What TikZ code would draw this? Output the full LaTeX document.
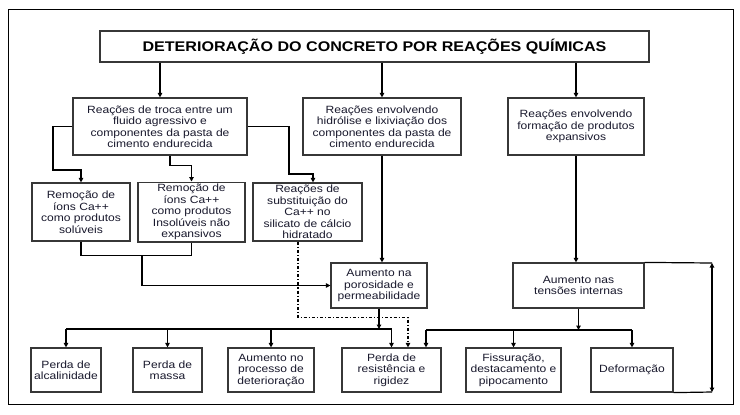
\documentclass[tikz,border=0pt]{standalone}
\usepackage{fontspec}
\setmainfont{Liberation Sans}[FakeStretch=1.15]
\usepackage{xcolor}
\usetikzlibrary{arrows.meta}
\definecolor{ink}{RGB}{25,25,45}
\definecolor{edge}{RGB}{55,55,55}

\begin{document}
\begin{tikzpicture}[x=1bp, y=-1bp,
  box/.style={draw=edge, line width=1.2bp, fill=white, align=center, text=ink, inner sep=2bp,
    font=\fontsize{10.5bp}{11.5bp}\selectfont},
  arr/.style={line width=1.2bp, -{Triangle[length=4.5bp,width=4.5bp]}},
  link/.style={line width=1.2bp},
  dd/.style={line width=1.2bp, dash dot, -{Triangle[length=4.5bp,width=4.5bp]}}]
  \useasboundingbox (0,0) rectangle (740,414);
  \draw[line width=0.8bp] (8,9) rectangle (733,404);

  \node[box, minimum width=549bp, minimum height=31bp, text=black,
    font=\fontsize{14bp}{16bp}\selectfont\bfseries] (T) at (374.5,46.5) {DETERIORAÇÃO DO CONCRETO POR REAÇÕES QUÍMICAS};

  \node[box, minimum width=174bp, minimum height=57bp] (A) at (160,126.5) {Reações de troca entre um\\fluido agressivo e\\componentes da pasta de\\cimento endurecida};
  \node[box, minimum width=158bp, minimum height=57bp] (B) at (382,126.5) {Reações envolvendo\\hidrólise e lixiviação dos\\componentes da pasta de\\cimento endurecida};
  \node[box, minimum width=136bp, minimum height=57bp] (C) at (576,126.5) {Reações envolvendo\\formação de produtos\\expansivos};

  \node[box, minimum width=98bp, minimum height=58bp] (D) at (81,212) {Remoção de\\íons Ca++\\como produtos\\solúveis};
  \node[box, minimum width=107bp, minimum height=58bp] (E) at (191.5,212) {Remoção de\\íons Ca++\\como produtos\\Insolúveis não\\expansivos};
  \node[box, minimum width=109bp, minimum height=58bp] (F) at (307.5,212) {Reações de\\substituição do\\Ca++ no\\silicato de cálcio\\hidratado};

  \node[box, minimum width=96bp, minimum height=45bp] (G) at (379,285.5) {Aumento na\\porosidade e\\permeabilidade};
  \node[box, minimum width=131bp, minimum height=45bp] (H) at (578.5,285.5) {Aumento nas\\tensões internas};

  \node[box, minimum width=70bp, minimum height=44bp] (J) at (66,370) {Perda de\\alcalinidade};
  \node[box, minimum width=69bp, minimum height=44bp] (K) at (167.5,370) {Perda de\\massa};
  \node[box, minimum width=86bp, minimum height=44bp] (L) at (271,370) {Aumento no\\processo de\\deterioração};
  \node[box, minimum width=99bp, minimum height=44bp] (I) at (391.5,370) {Perda de\\resistência e\\rigidez};
  \node[box, minimum width=95bp, minimum height=44bp] (M) at (513.5,370) {Fissuração,\\destacamento e\\pipocamento};
  \node[box, minimum width=82bp, minimum height=44bp] (N) at (632,370) {Deformação};

  \coordinate (DE) at (142,255);
  \coordinate (busL) at (0,329);
  \coordinate (busR) at (0,330);
  \coordinate (Id) at ([xshift=16.5bp]I.north);
  \coordinate (Ir) at ([xshift=34.5bp]I.north);
  \coordinate (sideT) at (712,263);
  \coordinate (sideB) at (712,392);

  \draw[arr] (T.south -| A.north) -- (A.north);
  \draw[arr] (T.south -| B.north) -- (B.north);
  \draw[arr] (T.south -| C.north) -- (C.north);

  \draw[arr] (A.west) -| (53,170) -| (D.north);
  \draw[arr] ([xshift=10bp]A.south) -- ++(0,10) -| (E.north);
  \draw[arr] (A.east) -| (289,174) -| ([xshift=5.5bp]F.north);

  \draw[link] (D.south) -- ++(0,14) -| (E.south);
  \draw[arr] (DE) |- (G.west);
  \draw[arr] (B.south) -- (B.south |- G.north);
  \draw[dd] ([xshift=-9.5bp]F.south) -- ++(0,76) -| (Id);
  \draw[arr] (C.south) -- (C.south |- H.north);

  \draw[arr] (G.south) -- (G.south |- busL);
  \draw[link] (J.north |- busL) -- (G.south |- busL);
  \draw[arr] (G.south |- busL) -| (I.north);
  \draw[arr] (J.north |- busL) -- (J.north);
  \draw[arr] (K.north |- busL) -- (K.north);
  \draw[arr] (L.north |- busL) -- (L.north);

  \draw[arr] (H.south) -- (H.south |- busR);
  \draw[link] (Ir |- busR) -- (N.north |- busR);
  \draw[arr] (Ir |- busR) -- (Ir);
  \draw[arr] (M.north |- busR) -- (M.north);
  \draw[arr] (N.north |- busR) -- (N.north);

  \draw[link] (H.north east) -- (sideT);
  \draw[link] (N.south east) -- (sideB);
  \draw[line width=1.2bp, {Triangle[length=4.5bp,width=4.5bp]}-{Triangle[length=4.5bp,width=4.5bp]}] (sideT) -- (sideB);
\end{tikzpicture}
\end{document}
